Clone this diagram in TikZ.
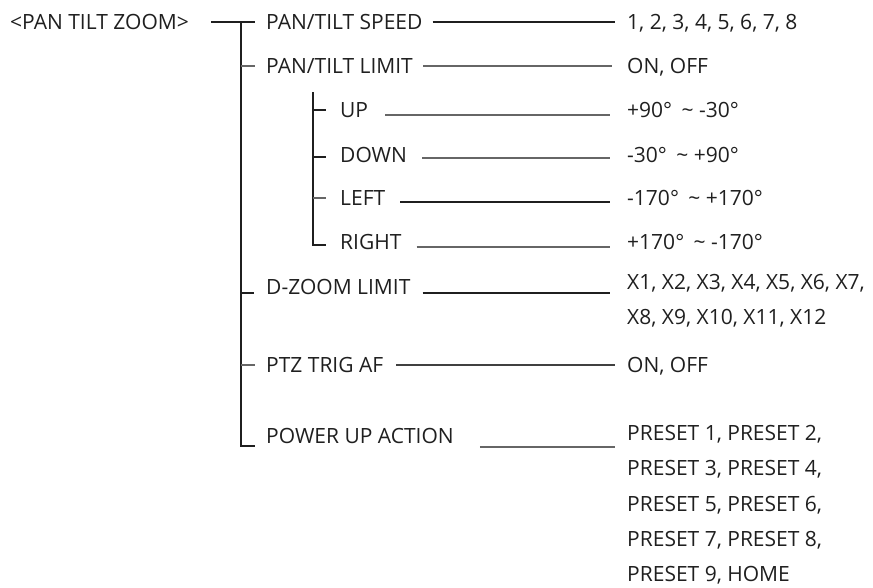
\documentclass[tikz,border=0pt]{standalone}
\usepackage{fontspec}
\setmainfont{Open Sans}
\usepackage{tikz}
\usetikzlibrary{positioning}

\tikzset{
  item/.style={anchor=base west, inner sep=0pt, text=black!88,
    font=\fontsize{21}{35.25}\selectfont},
  choice/.style={item, align=left},
  heavy/.style={line width=1.8pt, draw=black!88},
  light/.style={line width=1.1pt, draw=black!60},
}

\begin{document}
\begin{tikzpicture}[x=1pt, y=-1pt]
    \useasboundingbox (0,0) rectangle (873,587);

    % menu items
    \node[item] (root) at (10,29.5) {<PAN TILT ZOOM>};
    \node[item] (speed) at (266,29.5) {PAN/TILT SPEED};
    \node[item] (limit) at (266,73.5) {PAN/TILT LIMIT};
    \node[item] (up) at (340,117.5) {UP};
    \node[item] (down) at (340,162.5) {DOWN};
    \node[item] (left) at (340,205.5) {LEFT};
    \node[item] (right) at (340,249.5) {RIGHT};
    \node[item] (dzoom) at (266,294.5) {D-ZOOM LIMIT};
    \node[item] (trig) at (266,372.5) {PTZ TRIG AF};
    \node[item] (power) at (266,443) {POWER UP ACTION};

    % settings (multi-line ones sit on their last line)
    \node[item] (speed-val) at (627,29.5) {1, 2, 3, 4, 5, 6, 7, 8};
    \node[item] (limit-val) at (627,73.5) {ON, OFF};
    \node[item] (up-val) at (627,117.5) {+90°\hspace{0.45em}\textasciitilde{} -30°};
    \node[item] (down-val) at (627,162.5) {-30°\hspace{0.45em}\textasciitilde{} +90°};
    \node[item] (left-val) at (627,205.5) {-170°\hspace{0.45em}\textasciitilde{} +170°};
    \node[item] (right-val) at (627,249.5) {+170°\hspace{0.45em}\textasciitilde{} -170°};
    \node[choice] (dzoom-val) at (627,324.75)
        {X1, X2, X3, X4, X5, X6, X7,\\X8, X9, X10, X11, X12};
    \node[item] (trig-val) at (627,372.5) {ON, OFF};
    \node[choice] (power-val) at (627,581.5)
        {PRESET 1, PRESET 2,\\PRESET 3, PRESET 4,\\PRESET 5, PRESET 6,\\PRESET 7, PRESET 8,\\PRESET 9, HOME};

    % main tree
    \coordinate (trunk) at (241,22);
    \coordinate (trunk-end) at (241,446);
    \draw[heavy] ([xshift=22pt]root.east |- trunk) -- ([xshift=-11pt]speed.west |- trunk);
    \draw[heavy] (trunk) -- (trunk-end) -- ([xshift=-11pt]power.west |- trunk-end);
    \draw[light] (trunk |- limit.base) ++(0,-7.5) -- ++(14,0);
    \draw[heavy] (trunk |- dzoom.base) ++(0,-1.5) -- ++(13,0);
    \draw[light] (trunk |- trig.base) ++(0,-7.5) -- ++(14,0);

    % limit sub tree
    \coordinate (branch) at (313,92);
    \coordinate (branch-end) at (313,245);
    \draw[heavy] (branch) -- (branch-end) -- ([xshift=-14pt]right.west |- branch-end);
    \draw[heavy] (branch |- up.base) ++(0,-7.5) -- ++(13,0);
    \draw[heavy] (branch |- down.base) ++(0,-5.5) -- ++(13,0);
    \draw[light] (branch |- left.base) ++(0,-7.5) -- ++(13,0);

    % item to setting
    \draw[heavy] ([xshift=10pt,yshift=7.5pt]speed.base east) -- ([xshift=-12pt,yshift=7.5pt]speed.base east -| speed-val.west);
    \draw[light] ([xshift=10pt,yshift=7.5pt]limit.base east) -- ([xshift=-15pt,yshift=7.5pt]limit.base east -| limit-val.west);
    \draw[light] ([xshift=17pt,yshift=2.5pt]up.base east) -- ([xshift=-17pt,yshift=2.5pt]up.base east -| up-val.west);
    \draw[light] ([xshift=15pt,yshift=4.5pt]down.base east) -- ([xshift=-17pt,yshift=4.5pt]down.base east -| down-val.west);
    \draw[heavy] ([xshift=15pt,yshift=3.5pt]left.base east) -- ([xshift=-17pt,yshift=3.5pt]left.base east -| left-val.west);
    \draw[light] ([xshift=15pt,yshift=2.5pt]right.base east) -- ([xshift=-17pt,yshift=2.5pt]right.base east -| right-val.west);
    \draw[heavy] ([xshift=12pt,yshift=1.5pt]dzoom.base east) -- ([xshift=-17pt,yshift=1.5pt]dzoom.base east -| dzoom-val.west);
    \draw[light, draw=black!75] ([xshift=13pt,yshift=7.5pt]trig.base east) -- ([xshift=-12pt,yshift=7.5pt]trig.base east -| trig-val.west);
    \draw[light] ([xshift=26pt,yshift=-4pt]power.base east) -- ([xshift=-12pt,yshift=-4pt]power.base east -| power-val.west);
\end{tikzpicture}
\end{document}
